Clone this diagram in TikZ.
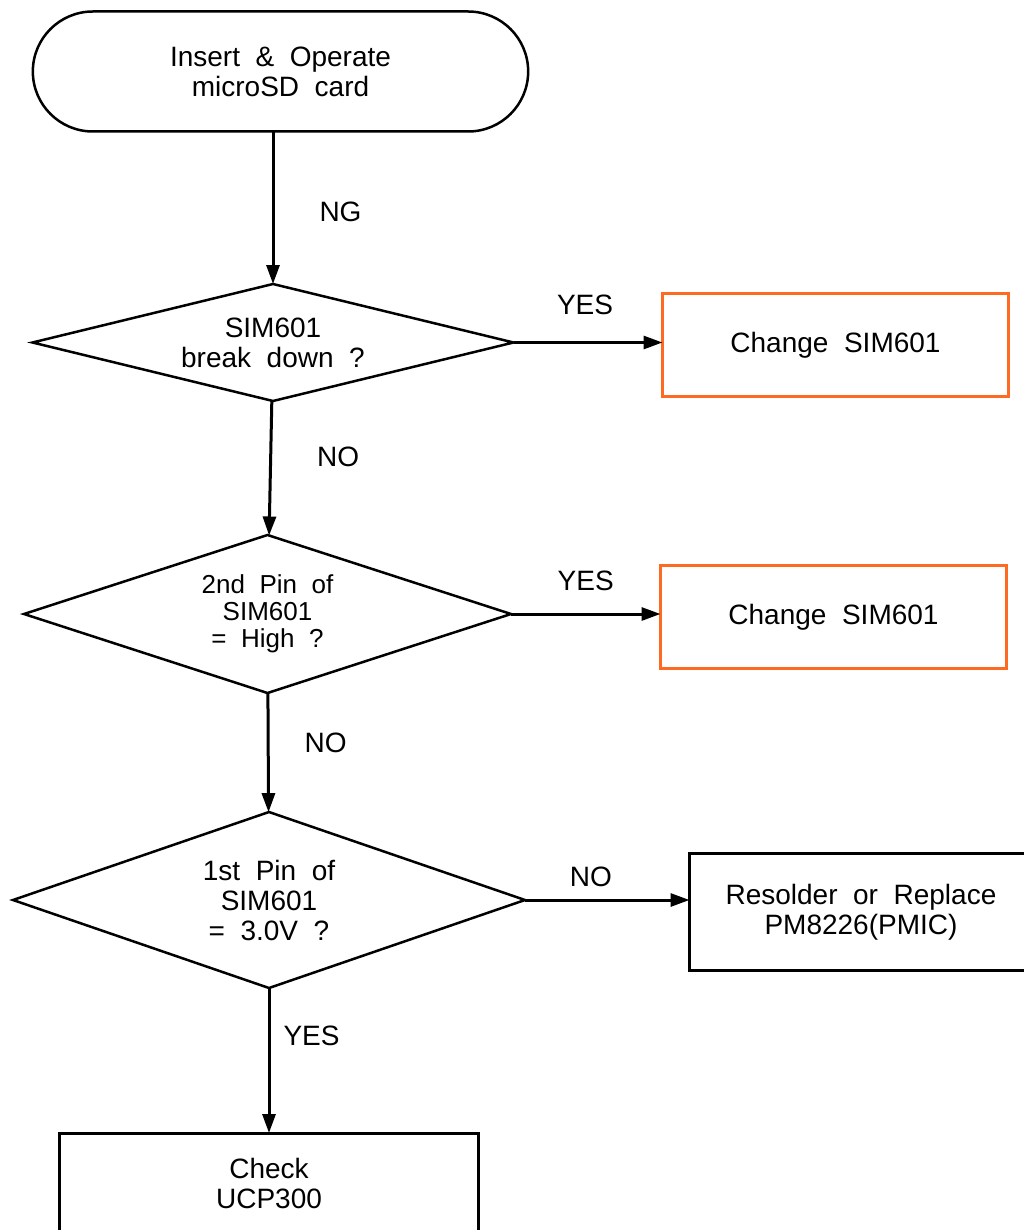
\documentclass[tikz,border=0pt]{standalone}
\usepackage{fontspec}
\setmainfont{Liberation Sans}
\usetikzlibrary{shapes.geometric,shapes.misc,arrows.meta}
\definecolor{fixorange}{HTML}{FF6A22}
\begin{document}
\begin{tikzpicture}[x=1pt,y=-1pt,
    txt/.style={font=\fontsize{28}{30}\selectfont, align=center},
    term/.style={txt, draw, line width=2.5pt, rounded rectangle, minimum width=502pt, minimum height=120pt, outer sep=0pt},
    ask/.style={txt, draw, line width=2.5pt, diamond, inner sep=0pt, outer sep=0pt},
    fix/.style={txt, draw=fixorange, line width=3pt, minimum width=346pt, minimum height=103pt, outer sep=0pt},
    act/.style={txt, draw, line width=3pt, outer sep=0pt},
    lbl/.style={font=\fontsize{28}{30}\selectfont, inner sep=0pt},
    flow/.style={->, line width=3pt},
    >={Triangle[length=19pt,width=13pt]}]
        \useasboundingbox (0,0) rectangle (1024,1230);
        \clip (0,0) rectangle (1024,1230);

        % Start
        \node[term] (Start) at (280.5,71.5) {Insert~~\&~~Operate\\microSD~~card};

        % Questions
        \node[ask, aspect=4.11, minimum width=481pt, minimum height=117pt] (Q1) at (273,342.5) {SIM601\\break~~down~~?};
        \node[ask, aspect=3.08, minimum width=487pt, minimum height=158pt, font=\fontsize{26}{27}\selectfont] (Q2) at (267.5,614) {2nd~~Pin~~of\\SIM601\\=~~High~~?};
        \node[ask, aspect=2.91, minimum width=512pt, minimum height=176pt] (Q3) at (269,900) {1st~~Pin~~of\\SIM601\\=~~3.0V~~?};

        % Actions
        \node[fix] (C1) at (835.5,345) {Change~~SIM601};
        \node[fix] (C2) at (833.5,617) {Change~~SIM601};
        \node[act, minimum width=343pt, minimum height=117pt] (R) at (861,912) {Resolder~~or~~Replace\\PM8226(PMIC)};
        \node[act, minimum width=419pt, minimum height=100pt] (U) at (269,1183) {Check\\UCP300};

        % Main line
        \draw[flow] (Start.south -| Q1.north) -- node[lbl, pos=0.53, right=45pt] {NG} (Q1);
        \draw[flow] (Q1) -- node[lbl, pos=0.42, right=45pt] {NO} (Q2);
        \draw[flow] (Q2) -- node[lbl, pos=0.42, right=35pt] {NO} (Q3);
        \draw[flow] (Q3) -- node[lbl, pos=0.33, right=13pt] {YES} (U);

        % Side branches
        \draw[flow] (Q1.east) -- node[lbl, pos=0.48, above=26pt] {YES} (C1.west |- Q1.east);
        \draw[flow] (Q2.east) -- node[lbl, pos=0.5, above=22pt] {YES} (C2.west |- Q2.east);
        \draw[flow] (Q3.east) -- node[lbl, pos=0.4, above=12pt] {NO} (R.west |- Q3.east);

\end{tikzpicture}
\end{document}
